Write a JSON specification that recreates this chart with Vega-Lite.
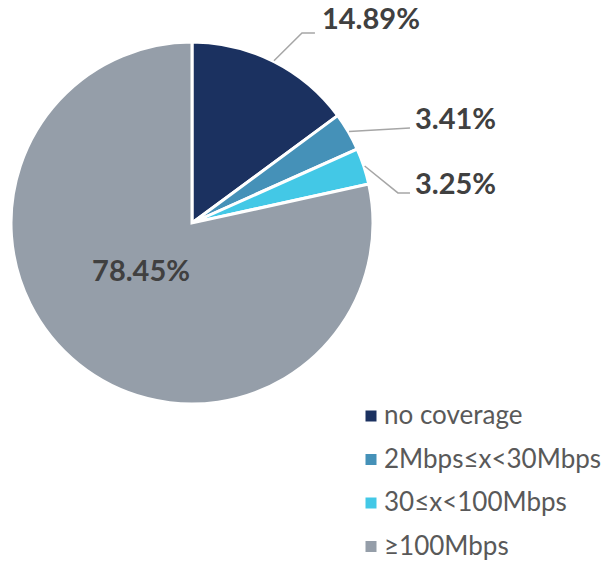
{
  "$schema": "https://vega.github.io/schema/vega-lite/v6.json",
  "width": 608,
  "height": 563,
  "autosize": {"type": "none"},
  "padding": 0,
  "background": "white",
  "config": {"view": {"stroke": null}},
  "data": {
    "values": [
      {"cat": "no coverage", "v": 14.89},
      {"cat": "2Mbps≤x<30Mbps", "v": 3.41},
      {"cat": "30≤x<100Mbps", "v": 3.25},
      {"cat": "≥100Mbps", "v": 78.45}
    ]
  },
  "transform": [
    {"window": [{"op": "row_number", "as": "i"}]},
    {"window": [{"op": "sum", "field": "v", "as": "cum"}], "sort": [{"field": "i"}], "frame": [null, 0]},
    {"calculate": "(datum.cum - datum.v/2)/100*2*PI", "as": "mid"}
  ],
  "layer": [
    {
      "mark": {"type": "arc", "outerRadius": 181, "stroke": "white", "strokeWidth": 3},
      "encoding": {
        "theta": {"field": "v", "type": "quantitative", "stack": true},
        "order": {"field": "i", "type": "quantitative"},
        "color": {
          "field": "cat", "type": "nominal", "sort": null,
          "scale": {
            "domain": ["no coverage", "2Mbps≤x<30Mbps", "30≤x<100Mbps", "≥100Mbps"],
            "range": ["#1B3160", "#4591B8", "#43C8E6", "#959EA9"]
          },
          "legend": {
            "orient": "none", "legendX": 358, "legendY": 403, "title": null,
            "symbolType": "square", "symbolSize": 121, "symbolStrokeWidth": 0,
            "labelFont": "Lato", "labelFontSize": 26, "labelColor": "#595959",
            "rowPadding": 17.5, "labelOffset": 0, "padding": 0, "labelLimit": 400
          }
        },
        "x": {"datum": 0, "type": "quantitative", "scale": {"domain": [-1.06667, 2.31111], "nice": false, "zero": false}, "axis": null},
        "y": {"datum": 0, "type": "quantitative", "scale": {"domain": [-1.88889, 1.23889], "nice": false, "zero": false}, "axis": null}
      }
    },
    {
      "transform": [
        {"filter": "datum.i <= 3"},
        {"calculate": "[1.01*sin(datum.mid), datum.i==1 ? 0.611 : (datum.i==2 ? 1.211 : 1.144), datum.i==1 ? 0.683 : 1.211]", "as": "xs"},
        {"calculate": "[1.01*cos(datum.mid), datum.i==1 ? 1.056 : (datum.i==2 ? 0.528 : 0.167), datum.i==1 ? 1.056 : (datum.i==2 ? 0.528 : 0.167)]", "as": "ys"},
        {"calculate": "[0,1,2]", "as": "ks"},
        {"flatten": ["xs", "ys", "ks"], "as": ["px", "py", "k"]}
      ],
      "mark": {"type": "line", "color": "#A6A6A6", "strokeWidth": 1.5},
      "encoding": {
        "x": {"field": "px", "type": "quantitative", "scale": {"domain": [-1.06667, 2.31111], "nice": false, "zero": false}, "axis": null},
        "y": {"field": "py", "type": "quantitative", "scale": {"domain": [-1.88889, 1.23889], "nice": false, "zero": false}, "axis": null},
        "detail": {"field": "cat", "type": "nominal"},
        "order": {"field": "k", "type": "quantitative"}
      }
    },
    {
      "transform": [
        {"filter": "datum.i <= 3"},
        {"calculate": "datum.i==1 ? 0.722 : 1.239", "as": "lx"},
        {"calculate": "datum.i==1 ? 1.128 : (datum.i==2 ? 0.572 : 0.211)", "as": "ly"},
        {"calculate": "format(datum.v, '.2f') + '%'", "as": "lbl"}
      ],
      "mark": {"type": "text", "align": "left", "baseline": "middle", "font": "Lato", "fontWeight": "bold", "fontSize": 29, "color": "#404040"},
      "encoding": {
        "x": {"field": "lx", "type": "quantitative", "scale": {"domain": [-1.06667, 2.31111], "nice": false, "zero": false}, "axis": null},
        "y": {"field": "ly", "type": "quantitative", "scale": {"domain": [-1.88889, 1.23889], "nice": false, "zero": false}, "axis": null},
        "text": {"field": "lbl", "type": "nominal"}
      }
    },
    {
      "transform": [
        {"filter": "datum.i == 4"},
        {"calculate": "format(datum.v, '.2f') + '%'", "as": "lbl"}
      ],
      "mark": {"type": "text", "align": "center", "baseline": "middle", "font": "Lato", "fontWeight": "bold", "fontSize": 29, "color": "#404040"},
      "encoding": {
        "x": {"datum": -0.283, "type": "quantitative", "scale": {"domain": [-1.06667, 2.31111], "nice": false, "zero": false}, "axis": null},
        "y": {"datum": -0.272, "type": "quantitative", "scale": {"domain": [-1.88889, 1.23889], "nice": false, "zero": false}, "axis": null},
        "text": {"field": "lbl", "type": "nominal"}
      }
    }
  ]
}
